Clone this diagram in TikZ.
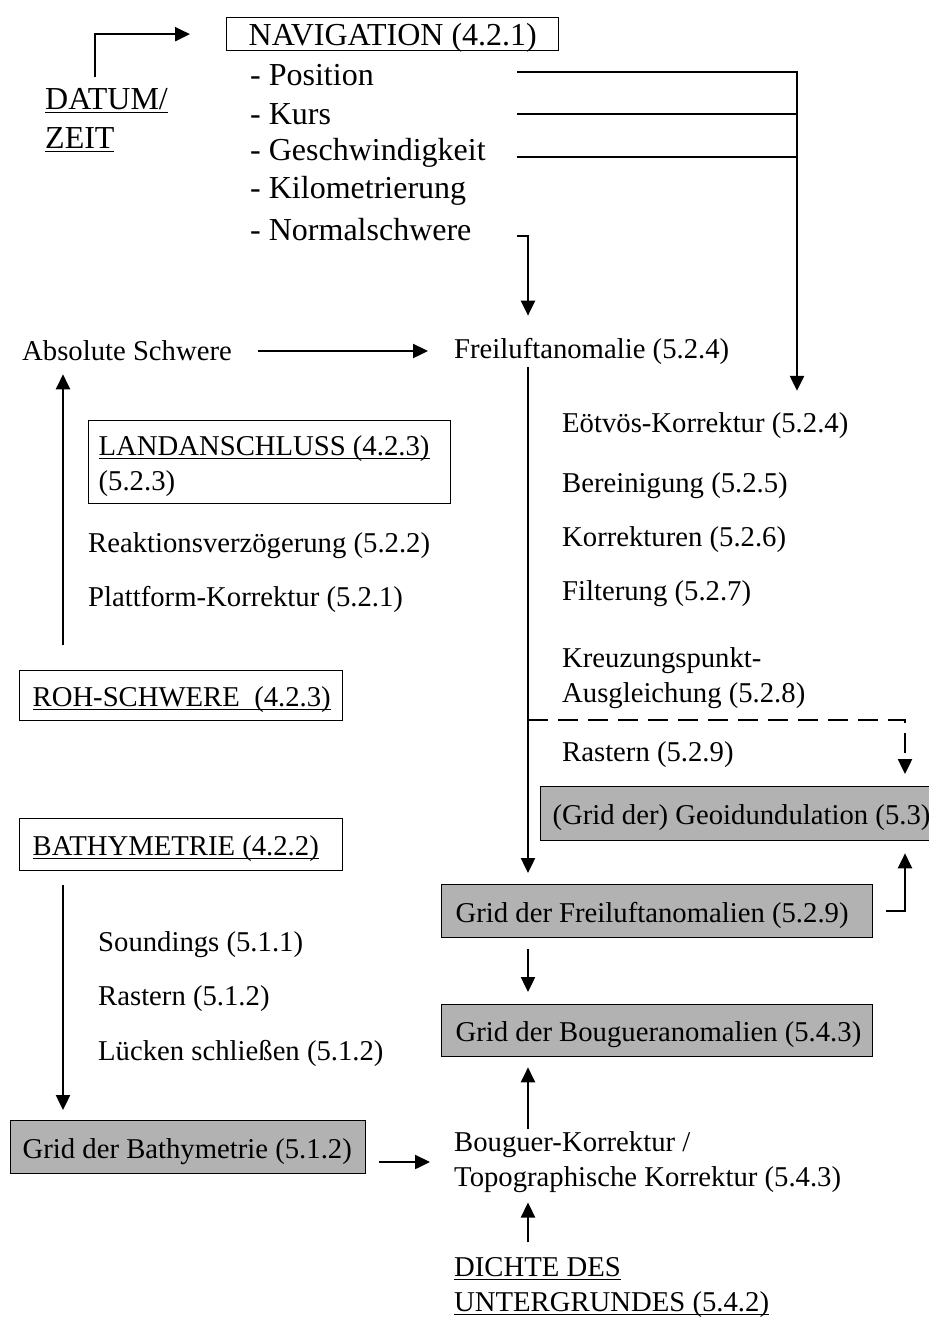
\documentclass[tikz,border=0pt]{standalone}
\usepackage{fontspec}
\setmainfont{Liberation Serif}
\usetikzlibrary{arrows.meta}
\definecolor{boxgray}{RGB}{178,178,178}
\newcommand{\boxtext}[3]{\makebox[#1][l]{\hspace*{#2}\raisebox{-4pt}[\height][\depth]{#3}}}
\newcommand{\ulx}[1]{\setbox0\hbox{#1}\rlap{\rule[-3.5pt]{\wd0}{1.1pt}}\box0}
\begin{document}
\begin{tikzpicture}[x=1pt,y=-1pt,
  every node/.style={inner sep=0pt, font=\fontsize{28.7}{34.5}\selectfont},
  txt/.style={anchor=west, align=left, yshift=-3pt},
  big/.style={font=\fontsize{32}{39}\selectfont},
  frame/.style={draw, line width=1.3pt, anchor=north west, minimum height=#1, inner xsep=0pt},
  shaded/.style={fill=boxgray},
  conn/.style={line width=2.4pt},
  arr/.style={conn, -{Triangle[length=15pt,width=14pt]}},
  dsh/.style={dash pattern=on 20pt off 10pt}
]
\useasboundingbox (0,0) rectangle (929,1318);

% ---- top section
\node[frame=33pt, big] (nav) at (226,17) {\boxtext{332pt}{22pt}{NAVIGATION (4.2.1)}};
\node[anchor=west, big] (pos) at (250,75) {- Position};
\node[anchor=west, big] (kurs) at (250,114) {- Kurs};
\node[anchor=west, big] (gesch) at (250,153) {- Geschwindigkeit};
\node[anchor=west, big] (kilo) at (250,191) {- Kilometrierung};
\node[anchor=west, big] (norm) at (250,230) {- Normalschwere};
\node[anchor=west, big] (datum) at (45,101) {\ulx{DATUM/}};
\node[anchor=west, big] (zeit) at (45,140) {\ulx{ZEIT}};

\coordinate (lx) at (517,0);
\coordinate (jx) at (797,0);
\coordinate (fx) at (528,0);
\coordinate (rx) at (905,0);
\coordinate (lxx) at (63,0);
\coordinate (dx) at (95,77);

% ---- middle / right
\node[txt] (abs) at (22,348) {Absolute Schwere};
\node[txt] (frei) at (454,348) {Freiluftanomalie (5.2.4)};
\node[txt] (eot) at (562,423) {Eötvös-Korrektur (5.2.4)};
\node[txt] (ber) at (562,483) {Bereinigung (5.2.5)};
\node[txt] (kor) at (562,537) {Korrekturen (5.2.6)};
\node[txt] (fil) at (562,591) {Filterung (5.2.7)};
\node[txt] (kreuz) at (562,675) {Kreuzungspunkt-\\Ausgleichung (5.2.8)};
\node[txt] (rast) at (562,752) {Rastern (5.2.9)};
\coordinate (dshstart) at (528,720);

\node[frame=54pt, shaded] (geo) at (540,786) {\boxtext{400pt}{12pt}{(Grid der) Geoidundulation (5.3)}};
\node[frame=53pt, shaded] (gfa) at (441,884) {\boxtext{431pt}{14pt}{Grid der Freiluftanomalien (5.2.9)}};
\node[frame=52pt, shaded] (gba) at (441,1004) {\boxtext{431pt}{14pt}{Grid der Bougueranomalien (5.4.3)}};
\node[txt] (boug) at (454,1159) {Bouguer-Korrektur /\\Topographische Korrektur (5.4.3)};
\node[anchor=west] (dichte) at (454,1287) {\begin{tabular}{@{}l@{}}\ulx{DICHTE DES}\\\ulx{UNTERGRUNDES (5.4.2)}\end{tabular}};

% ---- left
\node[frame=83pt] (land) at (88,420) {\boxtext{362pt}{10pt}{\begin{tabular}{@{}l@{}}\ulx{LANDANSCHLUSS (4.2.3)}\\(5.2.3)\end{tabular}}};
\node[txt] (reak) at (88,543) {Reaktionsverzögerung (5.2.2)};
\node[txt] (platt) at (88,596) {Plattform-Korrektur (5.2.1)};
\node[frame=50pt] (roh) at (19,670) {\boxtext{323pt}{13pt}{\ulx{ROH-SCHWERE\ \ (4.2.3)}}};
\node[frame=52pt] (bath) at (19,818) {\boxtext{323pt}{13pt}{\ulx{BATHYMETRIE (4.2.2)}}};
\node[txt] (sound) at (98,942) {Soundings (5.1.1)};
\node[txt] (rast2) at (98,996) {Rastern (5.1.2)};
\node[txt] (luck) at (98,1050) {Lücken schließen (5.1.2)};
\node[frame=53pt, shaded] (gbat) at (10,1120) {\boxtext{355pt}{12pt}{Grid der Bathymetrie (5.1.2)}};

% ---- connectors
\draw[arr, shorten >=36pt] (dx) |- (nav.west);
\draw[arr, shorten >=22pt] ([yshift=3pt]lx |- pos) -| (jx |- eot.north);
\draw[conn] (lx |- kurs) -- (jx |- kurs);
\draw[conn] ([yshift=-4pt]lx |- gesch) -- ([yshift=-4pt]jx |- gesch);
\draw[arr, shorten >=22pt] ([yshift=-6pt]lx |- norm) -| (fx |- frei.north);
\draw[arr, shorten <=26pt, shorten >=26pt] (abs.east) -- (frei.west);
\draw[arr, shorten <=3pt, shorten >=11pt] (fx |- frei.south) -- (fx |- gfa.north);
\draw[arr, dsh, shorten >=12pt] (dshstart) -| (rx |- geo.north);
\draw[arr, shorten <=13pt, shorten >=12pt] (gfa.east) -| (rx |- geo.south);
\draw[arr, shorten <=11pt, shorten >=12pt] (fx |- gfa.south) -- (fx |- gba.north);
\draw[arr, shorten <=3pt, shorten >=10pt] (fx |- boug.north) -- (fx |- gba.south);
\draw[arr, shorten <=10pt, shorten >=10pt] (fx |- dichte.north) -- (fx |- boug.south);
\draw[arr, shorten <=25pt, shorten >=13pt] (lxx |- roh.north) -- (lxx |- abs.south);
\draw[arr, shorten <=14pt, shorten >=10pt] (lxx |- bath.south) -- (lxx |- gbat.north);
\draw[arr, shorten <=13pt, shorten >=24pt] (boug.west -| gbat.east) -- (boug.west);
\end{tikzpicture}
\end{document}
